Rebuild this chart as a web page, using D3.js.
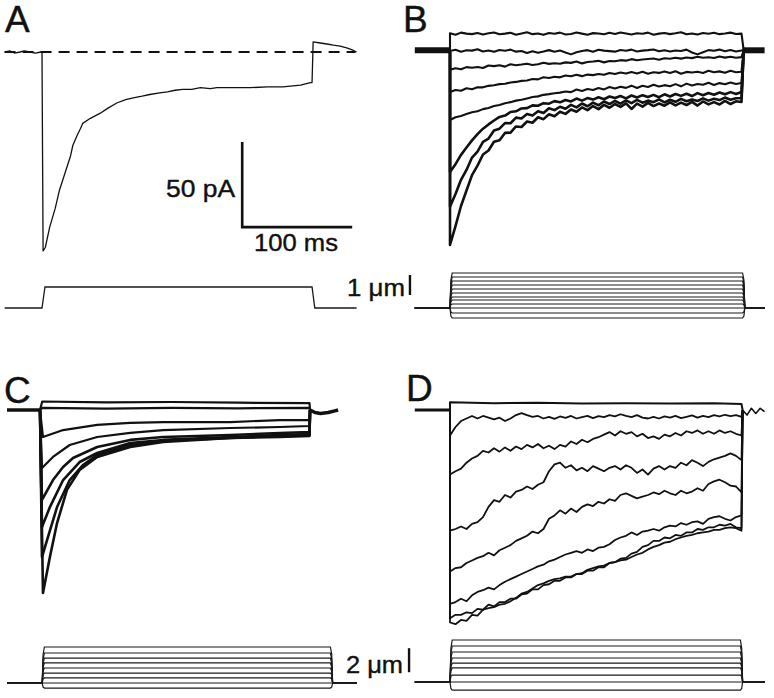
<!DOCTYPE html>
<html><head><meta charset="utf-8">
<script src="https://cdn.jsdelivr.net/npm/d3@7"></script>
<style>body{margin:0;background:#fff}svg{display:block}</style>
</head><body>
<svg id="fig" width="774" height="698"></svg>
<script>
// ---------------- DATA (time in ms, current in pA, displacement in µm) ----------------
const panelLabels = ["A", "B", "C", "D"];
const scaleBarTime = 100;      // ms
const scaleBarCurrent = 50;    // pA
const stimBarAB = 1;           // µm
const stimBarCD = 2;           // µm

// sample times used for the noisy families (ms after step onset)
const tGrid = [0,5,10,15,20,25,30,35,40,45,50,55,60,65,70,75,80,85,90,95,100,105,110,115,120,125,130,135,140,145,150,155,160,165,170,175,180,185,190,195,200,205,210,215,220,225,230,235,240,245,250,255,260,265];

// Panel A: single current trace
const tA = [-34,-29,-25,-20,-16,-11,-6,-1,0,0.5,1,3,7,12,16,21,26,28,32,35,37,44,53,60,68,76,83,91,98,107,114,121,128,136,144,153,159,174,189,205,219,235,244,245.5,246.5,253,259,265,271,277,282,286];
const iA = [0,0.6,-0.6,0,0.6,0,-0.6,0,0,-60,-117,-115,-103,-92,-81,-71,-61,-55,-49,-45,-42,-39,-36,-33,-30,-28,-27,-26,-25,-24,-23.5,-22.5,-22,-22,-21,-21.5,-21,-21,-21,-20.5,-20.5,-19.5,-18,-18,6,5.3,4.7,4,3.5,2.4,1.2,0];
const stimA_t = [-34,0,2.7,245.5,248,286];
const stimA_d = [0,0,1.05,1.05,0,0];

// Panel B: family of current traces sampled on tGrid
const iB = [
 [11,10.2,11.4,10.8,10.5,11.2,10.3,11,11.5,10.4, 10.8,11.3,10.2,10.9,11.6,10.5,10.9,10.1,11.2,10.7, 11.4,10.3,10.6,11.5,10.8,10.2,11.1,10.9,10.4,11.3, 10.6,11.5,10.9,10.3,11,10.7,11.4,10.2,10.8,11.2, 10.5,11,11.6,10.4,10.9,10.3,11.2,10.7,11.3,10.5, 10.9,11.4,10.6,10.8],
 [0.6,1.3,0.2,1,0.8,1.6,0.3,0.9,0.1,1.2, 0.7,1.4,0.2,0.6,-0.6,0.4,-0.4,0.3,1.1,0.2, 0.9,-0.3,-1.4,-0.2,0.6,1.1,0.1,1.3,0.8,0.5, 0.2,1.2,0.7,1.4,0.3,0.8,1.1,1.5,0.4,1, 0.3,0.9,0.6,1.4,-0.3,-1.4,-0.1,1.1,0.7,1.4, 0.4,1.2,0.3,0.9],
 [-10.5,-9.6,-10.2,-8.9,-9.3,-8.8,-9.4,-7.9,-8.3,-7.8, -8.6,-7.2,-7.8,-7.4,-6.9,-7.6,-7.2,-6.3,-7,-6.6, -6.9,-6.1,-6.4,-5.6,-6.7,-5.9,-5.6,-5.2,-6.1,-5.3, -5.4,-4.8,-5.1,-4.2,-4.9,-4.4,-4.1,-3.8,-4.6,-3.7, -4,-3.4,-3.9,-3.2,-3.6,-2.8,-3.4,-3.1,-3.5,-2.6, -3.3,-2.8,-3.4,-3],
 [-23.5,-22.4,-22.8,-21.3,-21.9,-20.7,-20.8,-19.9,-19.6,-18.9, -18.7,-17.9,-17.6,-17,-16.8,-15.9,-16.1,-14.9,-15.3,-14.6, -14.9,-13.8,-14.3,-13.4,-14.2,-13.3,-13.6,-12.9,-13.4,-12.3, -12.9,-12.1,-12.7,-11.8,-12.6,-11.6,-12.8,-11.9,-12.3,-11.5, -12.4,-11.3,-12.8,-11.7,-12.1,-11.6,-12.3,-11,-11.9,-11.4, -12.2,-11,-11.9,-11.6],
 [-40,-38.4,-37.6,-36.5,-35.4,-34.8,-33.6,-32.9,-31.8,-31.2, -30.2,-29.5,-28.6,-28.1,-27.3,-26.5,-26.1,-25.2,-24.8,-24.3, -23.9,-23.2,-23.6,-22.1,-22.9,-21.8,-22.4,-21.2,-22,-20.6, -21.5,-20.4,-21.1,-19.8,-21.2,-19.9,-20.6,-19.3,-20.3,-19.5, -20.1,-18.9,-20.2,-18.6,-19.7,-18.8,-19.3,-18.1,-19.4,-18.3, -19,-17.9,-18.8,-18.2],
 [-70.6,-66,-60.5,-56.2,-52,-48.3,-45.1,-42.6,-40.3,-38.2, -37.4,-35.3,-34.9,-33.2,-33,-31.4,-31.6,-30.1,-30.4,-28.9, -29.6,-28.2,-29.1,-27.4,-28.6,-27.1,-28,-26.6,-27.8,-26.2, -27.1,-25.9,-27.3,-25.6,-26.8,-25.4,-26.5,-25.2,-26.6,-24.9, -26.2,-24.7,-25.8,-24.6,-25.9,-24.2,-25.4,-24.1,-25.1,-23.8, -24.9,-23.6,-24.7,-23.5],
 [-91,-83.5,-75.2,-69.4,-62.1,-58.6,-52.8,-50.9,-46.2,-45.1, -41.8,-41.9,-38.6,-39.1,-36.5,-37.4,-34.8,-35.9,-33.1,-34.2, -32.2,-33.4,-31.1,-32.6,-30.3,-31.9,-29.8,-31.3,-29.1,-30.6, -28.7,-30.4,-28.5,-30.1,-28.2,-29.8,-28.6,-29.5,-27.9,-29.6, -28.1,-29.3,-27.6,-29,-27.9,-28.8,-27.3,-28.6,-27.5,-28.3, -26.8,-28.1,-27.2,-27.1],
 [-113.5,-102.4,-90.6,-81.5,-72.4,-66.8,-60.3,-57.9,-52.8,-51.9, -47.6,-47.4,-43.8,-44.1,-40.9,-41.6,-38.4,-39.5,-36.6,-37.8, -35.1,-36.4,-33.8,-35.1,-32.6,-34.2,-31.8,-33.6,-31.1,-32.8, -30.6,-32.3,-30.2,-33.5,-30.4,-32.1,-29.9,-31.8,-30.3,-31.6, -29.6,-31.4,-29.8,-31.2,-29.3,-31.5,-29.1,-30.8,-29.5,-30.9, -28.8,-30.6,-29,-29.4]];
const baseB_pre_t = [-32,-20,-10,0], baseB_pre_i = [1,1,1,1];
const baseB_post_t = [266,276,286], baseB_post_i = [1,1,1];
const stimB_levels = [1.75,1.55,1.35,1.15,0.95,0.75,0.55,0.4,0.2,0,-0.25,-0.5];
const stimB_time = [-32,0,268,286]; // pre, on, off, post

// Panel C
const tC = [
 [2,60,120,180,245],
 [2,60,120,180,245],
 [2.7,21,52,82,112,173,218,245],
 [1.8,11.8,27,52,82,112,173,218,245],
 [1.8,11.8,21,30,52,82,112,173,218,245],
 [1.8,9,21,36,52,82,112,173,218,245],
 [1.8,6.4,15.5,27,39,52,82,112,173,218,245],
 [2.7,9,15.5,24.5,36,52,82,112,173,218,245]];
const iC = [
 [5,4.5,4.7,4.3,4],
 [1.2,0.8,1.2,1,1.2],
 [-15.9,-11.8,-8.8,-7.6,-7.1,-7.1,-5.9,-5.9],
 [-34.1,-27.6,-20.6,-15.9,-13.5,-11.8,-10.6,-10,-9.4],
 [-52.9,-41.2,-33.5,-28.2,-21.8,-17.6,-15.9,-14.7,-13.5,-12.9],
 [-68.8,-57.1,-41.2,-30.6,-25.3,-19.4,-17.6,-15.9,-14.7,-14.1],
 [-86.5,-76.5,-57.1,-41.2,-32.4,-26.5,-20.6,-18.2,-16.5,-15.3,-14.7],
 [-107.6,-86.5,-66.5,-47,-35.3,-27.6,-21.8,-18.8,-16.5,-15.9,-15.3]];
const baseC_pre_t = [-30,-15,0], baseC_pre_i = [0,0,0];
const baseC_post_t = [245.5,250,255,262,268,271], baseC_post_i = [0,-1.5,-2,-1.5,-0.5,0];
const stimC_levels = [3,2.5,2.08,1.67,1.25,0.83,0.42,0,-0.42];
const stimC_time = [-30,2,266,288];

// Panel D
const tD1 = [0,40,80,120,160,200,240,265];
const iD1 = [4.5,4,4.2,3.8,4,3.8,4,3.5];
const iD = [
 [-15,-10,-6.5,-5,-3.5,-5,-3.5,-4.5,-5.5,-4.5, -6.5,-5,-3,-1.8,-3,-4,-3.5,-5,-4,-5.2, -3.8,-4.6,-3.5,-5,-4.2,-3.5,-4.8,-3.6,-4.2,-3, -3.8,-2.5,-3.5,-4.2,-3,-4.5,-5,-4,-5,-3.8, -4.5,-3.5,-4.8,-4,-3.2,-4.5,-3.5,-4.2,-3,-3.8, -2.8,-3.6,-3,-4],
 [-38,-36,-34.5,-31,-28.5,-27,-24,-25,-22.5,-24.5, -22,-24,-21.5,-23,-20.5,-22,-20,-22.5,-21,-23, -20.5,-21.5,-18.5,-20,-17.5,-19,-17,-16,-14.5,-13, -15,-12.5,-14,-13,-15.5,-14,-16.5,-15.5,-17,-14.5, -15.5,-13.5,-15,-12.5,-13.5,-12,-14,-12.5,-14,-12, -13.5,-12.5,-14,-15],
 [-71,-70,-68.5,-70,-67,-66,-63,-57,-53,-54, -50,-51.5,-48,-47,-45,-46.5,-44,-42.5,-36,-32, -31,-34,-32.5,-35.5,-34,-36,-33,-34.5,-36,-34, -33,-35,-32.5,-34,-37,-35,-38,-34.5,-33,-35, -33,-34,-31,-32.5,-29.5,-31,-33,-30.5,-29,-28, -27,-25.5,-27,-29.5],
 [-95,-93,-92.5,-90,-88.5,-87,-86,-84,-85.5,-82.5, -81,-79.5,-77,-75.5,-74,-71.5,-72.5,-70,-64,-62, -59,-61,-58,-60,-57,-55.5,-56.5,-54,-55,-52.5, -53.5,-50,-49,-50.5,-52,-51,-50,-48.5,-49.5,-47.5, -49,-50,-47.5,-49,-48,-46,-47.5,-43.5,-42,-41, -42.5,-44.5,-45,-48.5],
 [-114,-113,-111,-112.5,-109,-107,-106,-104.5,-105.5,-103, -101,-99.5,-98,-96.5,-95,-93.5,-92,-91,-89,-88, -86.5,-85,-84,-83,-84,-82,-83,-81,-80.5,-79, -76.5,-75,-74,-72,-73.5,-71.5,-71,-70,-71,-69, -68,-68.5,-66.5,-67.5,-66,-65.5,-67,-64,-63,-62.5, -64,-65,-63,-62],
 [-122.5,-120.5,-120.5,-119,-119.5,-117,-117.5,-114.5,-115.5,-113, -113,-111,-111,-108.5,-108,-105.5,-105.5,-103,-102.5,-100.5, -100.5,-98.5,-98.5,-96.5,-96.5,-94.5,-94.5,-92.5,-92.5,-90, -89.5,-87.5,-87,-84.5,-83.5,-80.5,-79.5,-77,-77,-75, -75.5,-73.5,-74,-72,-72,-70,-70.5,-69,-69,-67.5, -68,-67,-69,-69.5],
 [-125,-126,-123.5,-124,-120.5,-121,-117.5,-116.5,-116,-114.5, -114,-112.5,-110.5,-108,-107,-105,-103,-102,-100.5,-99.5, -99,-98,-98,-96.5,-96,-94,-93,-92,-91.5,-90, -89.5,-88.5,-88,-86.5,-85,-84,-82,-80.5,-79.5,-78, -77.5,-76,-75,-74,-73.5,-72.5,-72,-71.5,-70.5,-70.5, -69.5,-69,-69.5,-71]];
const baseD_pre_t = [-32,-16,0], baseD_pre_i = [0,0,0];
const baseD_post_t = [266,270,274,278,282,286], baseD_post_i = [0,-3,1,-2,1,-1];
const stimD_levels = [3.5,3,2.5,2,1.58,1.17,0.58,0,-0.67];
const stimD_time = [-32,0,266,286];

// ---------------- LAYOUT / STYLE ----------------
const FONT = "'Liberation Sans', Arial, Helvetica, sans-serif";
const INK = "#111";
const svg = d3.select("#fig");

// px per ms = 1.1, px per pA = 1.7 (from the 100 ms / 50 pA scale bar)
function tScale(x0){ return d3.scaleLinear().domain([0,100]).range([x0, x0+110]); }
function iScale(y0){ return d3.scaleLinear().domain([0,-50]).range([y0, y0+85]); }
function sScale(y0, pxPerUm){ return d3.scaleLinear().domain([0,1]).range([y0, y0-pxPerUm]); }

const P = {
  A:{x:tScale(42),  y:iScale(52),  s:sScale(308,20)},
  B:{x:tScale(450), y:iScale(52),  s:sScale(308,20)},
  C:{x:tScale(40),  y:iScale(410), s:sScale(683,12)},
  D:{x:tScale(450), y:iScale(410), s:sScale(682,12)}
};

function drawTrace(g, sc, T, V, w){
  const line = d3.line().x((d,i)=>sc.x(T[i])).y((d,i)=>sc.y(V[i]));
  g.append("path").attr("d", line(T)).attr("fill","none")
   .attr("stroke", INK).attr("stroke-width", w).attr("stroke-linejoin","round");
}
function drawStim(g, sc, T, D, w){
  const line = d3.line().x((d,i)=>sc.x(T[i])).y((d,i)=>sc.s(D[i]));
  g.append("path").attr("d", line(T)).attr("fill","none")
   .attr("stroke","#1a1a1a").attr("stroke-width", w);
}
function stimFamily(g, sc, levels, time){
  const [pre,on,off,post] = time;
  levels.forEach(L=>{
    drawStim(g, sc, [pre,on,on+0.8,on+2,off-2,off-0.8,off,post], [0,0,L*0.8,L,L,L*0.8,0,0], 1.2);
  });
}
function txt(x,y,s,size,len){
  const t = svg.append("text").attr("x",x).attr("y",y).text(s)
    .attr("font-family",FONT).attr("font-size",size).attr("fill",INK)
    .attr("stroke",INK).attr("stroke-width",0.4);
  if(len) t.attr("textLength",len).attr("lengthAdjust","spacingAndGlyphs");
  return t;
}

// ---------- Panel A ----------
const gA = svg.append("g");
gA.append("line").attr("x1",P.A.x(-34)).attr("x2",P.A.x(285)).attr("y1",P.A.y(0)).attr("y2",P.A.y(0))
  .attr("stroke",INK).attr("stroke-width",2).attr("stroke-dasharray","11,7");
drawTrace(gA, P.A, tA, iA, 1.3);
drawStim(gA, P.A, stimA_t, stimA_d, 1.3);
// scale bar
const sbT0 = 182, sbI0 = -103;
gA.append("path").attr("d", d3.line()([
   [P.A.x(sbT0), P.A.y(sbI0+scaleBarCurrent)],
   [P.A.x(sbT0), P.A.y(sbI0)],
   [P.A.x(sbT0+scaleBarTime), P.A.y(sbI0)]]))
  .attr("fill","none").attr("stroke",INK).attr("stroke-width",2.6);
txt(166, 197, scaleBarCurrent+" pA", 24, 69);
txt(254, 251, scaleBarTime+" ms", 24, 84);

// 1 µm bar
gA.append("line").attr("x1",P.A.x(334.5)).attr("x2",P.A.x(334.5))
  .attr("y1",P.A.s(0.65)).attr("y2",P.A.s(0.65+stimBarAB)).attr("stroke",INK).attr("stroke-width",2.4);
txt(347, 296, stimBarAB+" \u03bcm", 24, 58);

// ---------- Panel B ----------
const gB = svg.append("g");
drawTrace(gB, P.B, baseB_pre_t, baseB_pre_i, 6);
drawTrace(gB, P.B, baseB_post_t, baseB_post_i, 6);
iB.forEach((V,k)=>{
  drawTrace(gB, P.B, [0].concat(tGrid, [267]), [0].concat(V, [1]), k>=5?2.6:2.1);
});
stimFamily(gB, P.B, stimB_levels, stimB_time);

// ---------- Panel C ----------
const gC = svg.append("g");
drawTrace(gC, P.C, baseC_pre_t, baseC_pre_i, 3.5);
drawTrace(gC, P.C, baseC_post_t, baseC_post_i, 3.5);
tC.forEach((T,k)=>{
  drawTrace(gC, P.C, [0].concat(T, [245.5]), [0].concat(iC[k], [0]), k>=4?2.6:2.2);
});
stimFamily(gC, P.C, stimC_levels, stimC_time);
gC.append("line").attr("x1",P.C.x(335.5)).attr("x2",P.C.x(335.5))
  .attr("y1",P.C.s(0.9)).attr("y2",P.C.s(0.9+stimBarCD)).attr("stroke",INK).attr("stroke-width",2.4);
txt(346, 673, stimBarCD+" \u03bcm", 24, 57);

// ---------- Panel D ----------
const gD = svg.append("g");
drawTrace(gD, P.D, baseD_pre_t, baseD_pre_i, 3);
drawTrace(gD, P.D, baseD_post_t, baseD_post_i, 1.6);
drawTrace(gD, P.D, [0].concat(tD1, [266]), [0].concat(iD1, [0]), 2);
iD.forEach((V,k)=>{
  drawTrace(gD, P.D, [0].concat(tGrid, [266]), [0].concat(V, [0]), 1.8);
});
stimFamily(gD, P.D, stimD_levels, stimD_time);

// ---------- Panel letters ----------
const letterPos = [[5,32],[403,32],[4,403],[406,401]];
panelLabels.forEach((L,i)=> txt(letterPos[i][0], letterPos[i][1], L, 37));
</script>
</body></html>
